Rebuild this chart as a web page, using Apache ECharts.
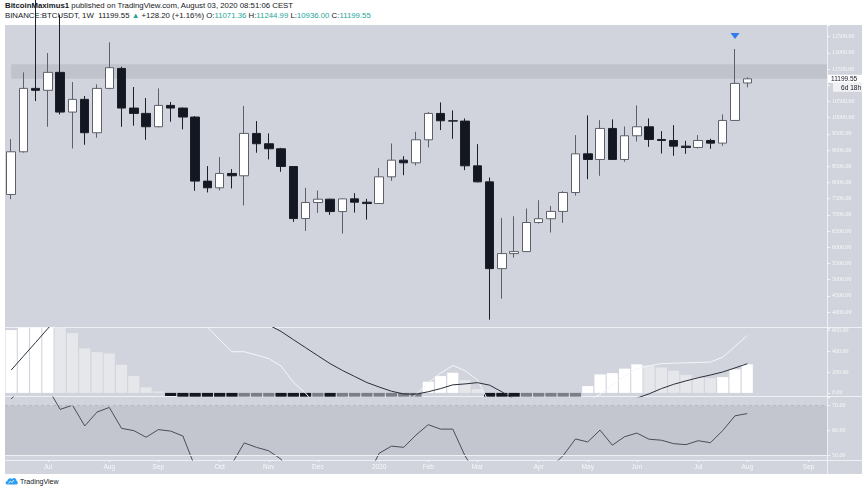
<!DOCTYPE html>
<html><head><meta charset="utf-8">
<script src="https://cdn.jsdelivr.net/npm/echarts@6/dist/echarts.min.js"></script>
<style>
html,body{margin:0;padding:0;background:#fff;width:862px;height:490px;overflow:hidden;font-family:'Liberation Sans','Noto Sans',sans-serif;}
#bg{position:absolute;left:5px;top:25px;width:857px;height:449px;background:#d1d4dc;}
.vl{position:absolute;left:827px;top:25px;width:1px;height:449px;background:#eef0f3;}
.hl{position:absolute;left:5px;width:857px;height:1px;background:#eef0f3;}
#chart{position:absolute;left:0;top:0;width:862px;height:490px;}
#hdr{position:absolute;left:5px;top:1px;font-size:7.8px;line-height:9.5px;color:#131722;white-space:nowrap;}
#hdr b{font-weight:bold;}
.g{color:#26a69a;}
#ftr{position:absolute;left:5px;top:477px;font-size:7px;color:#131722;display:flex;align-items:center;gap:2px;}
</style></head>
<body>
<div id="bg"></div>
<div class="vl"></div>
<div class="hl" style="top:327px"></div>
<div class="hl" style="top:396px"></div>
<div class="hl" style="top:460px"></div>
<div id="hdr"><b>BitcoinMaximus1</b> published on TradingView.com, August 03, 2020 08:51:06 CEST<br>BINANCE:BTCUSDT, 1W&nbsp; 11199.55 <span class="g">▲</span> +128.20 (+1.16%) O:<span class="g">11071.36</span> H:<span class="g">11244.99</span> L:<span class="g">10936.00</span> C:<span class="g">11199.55</span></div>
<div id="ftr"><svg width="13" height="8" viewBox="0 0 26 16"><path d="M5 15 C0 15 0 8 5 8 C5 3 11 1 14 4 C17 0 24 2 23 8 C27 9 26 15 22 15 Z" fill="#2e9cf0"/><path d="M7 13 L11 8 L14 11 L18 6" stroke="#fff" stroke-width="1.6" fill="none"/></svg><span>TradingView</span></div>
<div id="chart"></div>
<script>
// weekly candles, BINANCE:BTCUSDT 1W (categories include empty future weeks)
const weeks = ['2019-06-10','2019-06-17','2019-06-24','2019-07-01','2019-07-08','2019-07-15','2019-07-22','2019-07-29','2019-08-05','2019-08-12','2019-08-19','2019-08-26','2019-09-02','2019-09-09','2019-09-16','2019-09-23','2019-09-30','2019-10-07','2019-10-14','2019-10-21','2019-10-28','2019-11-04','2019-11-11','2019-11-18','2019-11-25','2019-12-02','2019-12-09','2019-12-16','2019-12-23','2019-12-30','2020-01-06','2020-01-13','2020-01-20','2020-01-27','2020-02-03','2020-02-10','2020-02-17','2020-02-24','2020-03-02','2020-03-09','2020-03-16','2020-03-23','2020-03-30','2020-04-06','2020-04-13','2020-04-20','2020-04-27','2020-05-04','2020-05-11','2020-05-18','2020-05-25','2020-06-01','2020-06-08','2020-06-15','2020-06-22','2020-06-29','2020-07-06','2020-07-13','2020-07-20','2020-07-27','2020-08-03','2020-08-10','2020-08-17','2020-08-24','2020-08-31','2020-09-07','2020-09-14'];
const opens  = [7629,8947,10904,10845,11399,10173,10565,9535,10904,11520,10297,10132,9720,10379,10297,10019,8041,7835,8278,8206,9514,9195,9040,8492,6885,7380,7483,7101,7493,7390,7349,8173,8688,8606,9317,10131,9904,9894,8513,8018,5339,5803,5865,6763,6880,7105,7689,8884,8709,9667,8709,9441,9719,9327,9296,9121,9080,9296,9214,9914,11071.36];
const closes = [8947,10904,10845,11399,10173,10565,9535,10904,11543,10297,10132,9720,10379,10297,10019,8041,7835,8278,8206,9514,9195,9040,8492,6885,7380,7483,7101,7493,7390,7349,8173,8688,8606,9317,10131,9904,9894,8513,8018,5339,5803,5865,6763,6880,7105,7689,8884,8709,9667,8709,9441,9719,9327,9296,9121,9080,9296,9214,9914,11058,11199.55];
const lows   = [7485,8920,10513,9720,10101,9050,9164,9380,10880,9720,9751,9318,9700,9874,9638,7742,7691,7753,7814,7289,8917,8711,8328,6782,6504,7060,6998,6421,7070,6854,7340,8049,8224,8523,9080,9616,9348,8379,8000,3763,4412,5679,5855,6731,6454,6751,7596,8101,8204,8700,8637,9265,9100,8894,8822,8884,9049,9039,9131,9900,10936];
const highs  = [9339,11399,13900,11996,13180,11100,10668,11028,12326,11575,10946,10606,10904,10482,10310,10050,8505,8783,8412,10359,9895,9514,9069,8500,7833,7751,7500,7500,7668,7493,8441,9203,8812,9564,10172,10471,10223,9976,9183,8152,6906,6957,7195,7452,7276,7730,9461,10069,9925,9946,9729,10378,9976,9585,9770,9286,9461,9348,10100,12120,11244.99];
const lastClose = 11199.55;
const lastCountdown = '6d 18h';
const bandLow = 11200, bandHigh = 11650;
const signalWeek = '2020-07-27';
// momentum histogram and its two lines
const histValues = [601,700,800,850,760,572,426,390,378,270,161,53,14,-30,-80,-200,-300,-380,-420,-400,-370,-350,-380,-480,-500,-470,-480,-440,-400,-360,-290,-200,-140,-60,107,161,193,122,36,-150,-300,-420,-380,-320,-250,-170,-60,65,177,189,232,273,263,244,212,174,148,142,151,225,273];
const whiteLine = [900,950,1000,1050,1080,1070,1040,1000,980,950,900,850,800,760,720,680,630,509,394,394,363,328,258,102,-2,-150,-250,-300,-320,-300,-260,-200,-130,-14,96,189,263,212,127,-100,-300,-400,-420,-380,-300,-220,-140,-70,-14,71,159,232,260,280,284,288,291,295,342,443,550];
const darkLine = [218,351,483,617,750,850,920,960,980,975,960,930,900,860,820,780,750,720,700,690,670,650,588,510,433,356,280,215,157,99,56,16,-10,-12,11,41,77,86,98,74,10,-60,-130,-190,-230,-250,-240,-210,-170,-130,-90,-50,-9,41,82,115,145,171,200,239,279];
// RSI
const rsiValues = [72.7,78,80,77,68.5,70.2,61.8,67.4,69.3,60.8,59.9,57.2,60.3,59.7,57.7,45,43,45,46.5,54.9,53.1,51.7,48.3,38,41,42,40,42,41.5,41,50.7,53.6,53.1,58.1,62.3,60.5,60.5,49.6,42,35,38,39,43,44,45,49.8,56.5,55.3,60.1,54.0,57.4,58.9,56.4,56.0,54.6,54.2,55.8,55.0,59.9,65.9,66.8];
const rsiUpper = 70, rsiMid = 50;
// time-axis tick labels
const tickDates  = ['2019-07-01','2019-08-05','2019-09-02','2019-10-07','2019-11-04','2019-12-02','2020-01-06','2020-02-03','2020-03-02','2020-04-06','2020-05-04','2020-06-01','2020-07-06','2020-08-03','2020-09-07'];
const tickLabels = ['Jul','Aug','Sep','Oct','Nov','Dec','2020','Feb','Mar','Apr','May','Jun','Jul','Aug','Sep'];

const candles = opens.map((o, i) => [o, closes[i], lows[i], highs[i]]);
const histData = histValues.map((v, i) => {
  const p = i > 0 ? histValues[i - 1] : -Infinity;
  let c;
  if (v >= 0) c = v > p ? '#ffffff' : '#e6e7eb';
  else c = v < p ? '#131722' : '#7b7e88';
  return { value: v, itemStyle: { color: c } };
});

const axisFont = { color: '#f7f8fa', fontSize: 6, fontFamily: 'Liberation Serif, DejaVu Serif, serif' };
function yAx(grid, min, max, split, step, lo, hi) {
  return {
    type: 'value', gridIndex: grid, position: 'right', min: min, max: max, splitNumber: split, scale: true,
    splitLine: { show: false }, axisLine: { show: false },
    axisTick: { show: true, length: 3, lineStyle: { color: '#f3f4f6', width: 1 } },
    axisLabel: Object.assign({ margin: 5, formatter: v => (Math.abs(v / step - Math.round(v / step)) < 1e-6 && v >= lo - 1e-6 && v <= hi + 1e-6) ? v.toFixed(2) : '' }, axisFont)
  };
}
function xAx(grid, show) {
  return {
    type: 'category', gridIndex: grid, data: weeks, boundaryGap: true,
    axisLine: { show: false },
    axisTick: { show: show, alignWithLabel: true, length: 2, interval: (i, v) => tickDates.indexOf(v) >= 0, lineStyle: { color: '#f3f4f6' } },
    axisLabel: Object.assign({ show: show, margin: 4, interval: (i, v) => tickDates.indexOf(v) >= 0, formatter: v => { const k = tickDates.indexOf(v); return k >= 0 ? tickLabels[k] : ''; } }, axisFont, { fontFamily: 'Liberation Sans, sans-serif', fontSize: 6.5 })
  };
}

const chart = echarts.init(document.getElementById('chart'), null, { renderer: 'canvas' });
chart.setOption({
  animation: false,
  backgroundColor: 'transparent',
  grid: [
    { left: 5, right: 35, top: 25, height: 303.2 },
    { left: 5, right: 35, top: 327.5, height: 69.2 },
    { left: 5, right: 35, top: 397, height: 63 }
  ],
  xAxis: [xAx(0, false), xAx(1, false), xAx(2, true)],
  yAxis: [
    yAx(0, 3500, 12861, 19, 500, 4000, 12500),
    yAx(1, -36.4, 625.8, 3, 200, 0, 600),
    yAx(2, 47.97, 73.53, 3, 10, 50, 70)
  ],
  series: [
    {
      type: 'candlestick', xAxisIndex: 0, yAxisIndex: 0, data: candles, barWidth: 9, clip: true, z: 3,
      itemStyle: { color: '#ffffff', color0: '#131722', borderColor: '#5d606b', borderColor0: '#1b1f2a', borderWidth: 1 },
      markPoint: {
        silent: true, label: { show: false },
        data: [{ coord: [signalWeek, highs[weeks.indexOf(signalWeek)]], symbol: 'path://M0,0L10,0L5,6Z', symbolSize: [9, 6], symbolOffset: [0, -13], itemStyle: { color: '#3179f0' } }]
      }
    },
    {
      type: 'line', xAxisIndex: 0, yAxisIndex: 0, data: [], z: 6, silent: true,
      markArea: { silent: true, itemStyle: { color: 'rgba(120,123,134,0.18)' }, data: [[{ xAxis: weeks[0], yAxis: bandLow }, { yAxis: bandHigh }]] },
      markLine: {
        silent: true, symbol: 'none', lineStyle: { color: 'rgba(0,0,0,0)', width: 1, type: 'solid' },
        label: {
          show: true, position: 'end', distance: 1, padding: [9, 0, 0, 0],
          formatter: '{p|' + lastClose.toFixed(2) + '}\n{t|' + lastCountdown + '}',
          rich: {
            p: { backgroundColor: '#ffffff', color: '#131722', fontSize: 6.5, width: 30, height: 8, padding: [0, 1, 0, 3], align: 'left', fontFamily: 'Liberation Sans, sans-serif' },
            t: { backgroundColor: '#f0f1f3', color: '#131722', fontSize: 6.5, width: 22, height: 8, padding: [1, 1, 0, 6], align: 'right', fontFamily: 'Liberation Sans, sans-serif' }
          }
        },
        data: [{ yAxis: lastClose }]
      }
    },
    { type: 'bar', xAxisIndex: 1, yAxisIndex: 1, data: histData, barWidth: '91%', clip: true, z: 2 },
    { type: 'line', xAxisIndex: 1, yAxisIndex: 1, data: whiteLine, symbol: 'none', clip: true, z: 4, lineStyle: { color: '#f4f5f7', width: 1 } },
    { type: 'line', xAxisIndex: 1, yAxisIndex: 1, data: darkLine, symbol: 'none', clip: true, z: 4, lineStyle: { color: '#2a2e39', width: 1 } },
    {
      type: 'line', xAxisIndex: 2, yAxisIndex: 2, data: rsiValues, symbol: 'none', clip: true, z: 4,
      lineStyle: { color: '#4a4d57', width: 1 },
      markArea: { silent: true, itemStyle: { color: 'rgba(120,123,134,0.15)' }, data: [[{ yAxis: rsiMid }, { yAxis: rsiUpper }]] },
      markLine: {
        silent: true, symbol: 'none', label: { show: false },
        data: [
          { yAxis: rsiUpper, lineStyle: { color: '#b4b7bf', type: [3, 3], width: 1 } },
          { yAxis: rsiMid, lineStyle: { color: '#eef0f3', type: 'solid', width: 1 } }
        ]
      }
    }
  ]
});
</script>
</body></html>
